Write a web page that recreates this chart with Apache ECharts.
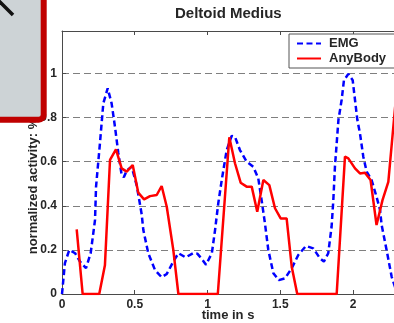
<!DOCTYPE html>
<html>
<head>
<meta charset="utf-8">
<script src="https://cdn.jsdelivr.net/npm/echarts@6/dist/echarts.min.js"></script>
<style>
html,body{margin:0;padding:0;background:#fff;}
#c{width:394px;height:323px;}
</style>
</head>
<body>
<div id="c"></div>
<script>
// ---- data ----
const chartTitle = 'Deltoid Medius';
const xAxisName = 'time in s';
const yAxisName = 'normalized activity: %';
const seriesNames = ['EMG', 'AnyBody'];

const emgTime = [0.00,0.02,0.05,0.09,0.124,0.165,0.197,0.227,0.234,0.261,0.284,0.314,0.341,0.364,0.387,0.41,0.425,0.445,0.479,0.513,0.53,0.548,0.559,0.593,0.639,0.685,0.72,0.765,0.8,0.85,0.9,0.93,0.96,0.99,1.03,1.052,1.074,1.098,1.132,1.166,1.189,1.223,1.269,1.315,1.349,1.372,1.395,1.418,1.453,1.49,1.533,1.579,1.624,1.677,1.727,1.773,1.8,1.83,1.853,1.865,1.876,1.9,1.922,1.938,1.968,1.998,2.014,2.03,2.048,2.071,2.094,2.128,2.162,2.186,2.197,2.231,2.266,2.29];
const emgValue = [0.00,0.14,0.20,0.185,0.147,0.117,0.185,0.336,0.487,0.685,0.865,0.933,0.865,0.759,0.64,0.54,0.53,0.56,0.577,0.494,0.43,0.36,0.29,0.185,0.109,0.076,0.091,0.147,0.185,0.166,0.185,0.183,0.16,0.133,0.185,0.29,0.411,0.517,0.653,0.717,0.713,0.653,0.6,0.577,0.525,0.426,0.32,0.2,0.094,0.063,0.071,0.117,0.177,0.218,0.207,0.162,0.147,0.185,0.305,0.426,0.577,0.789,0.88,0.97,0.998,0.97,0.88,0.79,0.729,0.623,0.555,0.517,0.441,0.381,0.313,0.2,0.078,0.03];

const anyTime = [0.101,0.142,0.256,0.295,0.33,0.371,0.41,0.445,0.486,0.524,0.564,0.605,0.651,0.685,0.72,0.765,0.8,1.071,1.15,1.189,1.228,1.269,1.304,1.342,1.384,1.425,1.464,1.503,1.544,1.579,1.617,1.888,1.945,1.968,2.014,2.048,2.082,2.121,2.162,2.203,2.243,2.29];
const anyValue = [0.293,0,0,0.13,0.608,0.656,0.57,0.555,0.585,0.46,0.429,0.444,0.449,0.49,0.396,0.2,0,0,0.711,0.593,0.505,0.487,0.487,0.373,0.517,0.494,0.389,0.343,0.343,0.124,0,0,0.623,0.615,0.57,0.547,0.55,0.517,0.313,0.426,0.509,0.85];

const xTicks = [0, 0.5, 1, 1.5, 2];
const yTicks = [0, 0.2, 0.4, 0.6, 0.8, 1];

// ---- chart ----
const FONT = '"Liberation Sans", Arial, Helvetica, sans-serif';
const AXIS_COL = '#4a4a4a';
const TXT_COL = '#262626';
const X_MAX = 2.282, Y_MAX = 1.193;

const zip = (a, b) => a.map((v, i) => [v, b[i]]);

const chart = echarts.init(document.getElementById('c'), null, {renderer: 'canvas'});
const xCommon = {
  type: 'value', min: 0, max: X_MAX, interval: 0.5,
  axisLine: {show: true, lineStyle: {color: AXIS_COL, width: 1}},
  axisTick: {show: true, inside: true, length: 4, lineStyle: {color: AXIS_COL}},
  splitLine: {show: false}
};
chart.setOption({
  animation: false,
  backgroundColor: '#ffffff',
  title: {
    text: chartTitle, left: 175, top: 6, padding: 0,
    textStyle: {fontFamily: FONT, fontSize: 15, fontWeight: 'bold', color: TXT_COL}
  },
  legend: {
    orient: 'vertical', left: 289, top: 34,
    padding: [3, 9, 3, 7], itemGap: 2, itemWidth: 24, itemHeight: 14,
    backgroundColor: '#ffffff', borderColor: '#555555', borderWidth: 1,
    itemStyle: {color: 'rgba(0,0,0,0)', borderWidth: 0, borderColor: 'rgba(0,0,0,0)'},
    textStyle: {fontFamily: FONT, fontSize: 13, fontWeight: 'bold', color: TXT_COL, padding: [0, 0, 0, 3]},
    data: seriesNames
  },
  grid: {left: 62, top: 31, right: 0, bottom: 29, outerBoundsMode: 'none', containLabel: false},
  xAxis: [
    Object.assign({}, xCommon, {
      position: 'bottom',
      name: xAxisName, nameLocation: 'middle', nameGap: 15, nameMoveOverlap: false,
      nameTextStyle: {fontFamily: FONT, fontSize: 13, fontWeight: 'bold', color: TXT_COL},
      axisLabel: {show: true, margin: 5, showMaxLabel: false, fontFamily: FONT, fontSize: 12, fontWeight: 'bold', color: TXT_COL,
        formatter: v => xTicks.includes(+v.toFixed(3)) ? String(+v.toFixed(3)) : ''}
    }),
    Object.assign({}, xCommon, {
      position: 'top', axisLabel: {show: false}
    })
  ],
  yAxis: {
    type: 'value', min: 0, max: Y_MAX, interval: 0.2,
    name: yAxisName, nameLocation: 'middle', nameGap: 22, nameRotate: 90, nameMoveOverlap: false,
    nameTextStyle: {fontFamily: FONT, fontSize: 13, fontWeight: 'bold', color: TXT_COL, padding: [0, 47, 0, 0]},
    axisLine: {show: true, lineStyle: {color: AXIS_COL, width: 1}},
    axisTick: {show: true, inside: true, length: 4, lineStyle: {color: AXIS_COL}},
    axisLabel: {show: true, margin: 5, showMaxLabel: false, fontFamily: FONT, fontSize: 12, fontWeight: 'bold', color: TXT_COL,
      formatter: v => yTicks.includes(+v.toFixed(3)) ? String(+v.toFixed(3)) : ''},
    splitLine: {show: true, lineStyle: {color: '#7f7f7f', width: 1, type: [7, 4]}}
  },
  series: [
    {
      name: seriesNames[0], type: 'line', xAxisIndex: 0, data: zip(emgTime, emgValue),
      showSymbol: false, symbol: 'none', clip: true, z: 3,
      lineStyle: {color: '#0000ff', width: 2.5, type: [6, 3.5]},
      itemStyle: {color: '#0000ff'}
    },
    {
      name: seriesNames[1], type: 'line', xAxisIndex: 0, data: zip(anyTime, anyValue),
      showSymbol: false, symbol: 'none', clip: true, z: 4,
      lineStyle: {color: '#ff0000', width: 2.5, type: 'solid'},
      itemStyle: {color: '#ff0000'}
    }
  ],
  graphic: [
    {
      type: 'rect', z: 100, silent: true,
      shape: {x: -10, y: -10, width: 53.7, height: 129.7, r: 5},
      style: {fill: '#cdd3d6', stroke: '#c00000', lineWidth: 6}
    },
    {
      type: 'line', z: 101, silent: true,
      shape: {x1: -1, y1: 1, x2: 13, y2: 15},
      style: {stroke: '#111111', lineWidth: 3.5}
    }
  ]
});
</script>
</body>
</html>
